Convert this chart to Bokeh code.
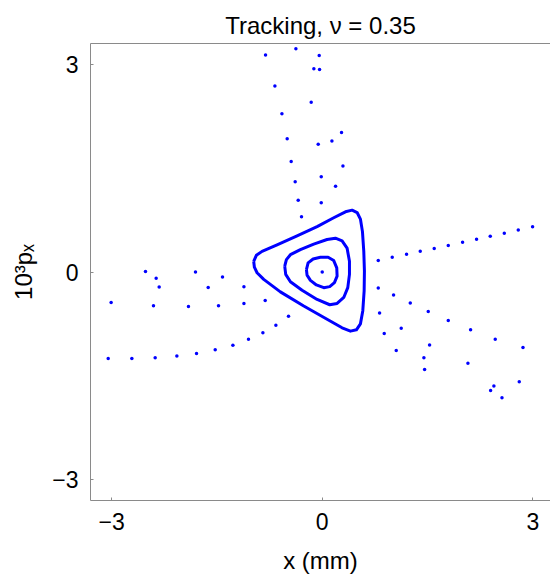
from bokeh.plotting import figure
from bokeh.models import Range1d, FixedTicker, LinearAxis
from bokeh.embed import file_html
from bokeh.resources import INLINE

# ---- data (x in mm, 10^3 px) ----
outer_x = [-0.976, -0.938, -0.857, -0.643, -0.358, -0.073, 0.164, 0.331, 0.426, 0.497,
           0.544, 0.573, 0.592, 0.601, 0.597, 0.578, 0.544, 0.487, 0.402, 0.283,
           0.069, -0.263, -0.596, -0.833, -0.928, -0.966]
outer_y = [0.155, 0.241, 0.298, 0.393, 0.521, 0.655, 0.783, 0.869, 0.893, 0.859,
           0.764, 0.583, 0.298, 0.012, -0.273, -0.559, -0.749, -0.835, -0.854, -0.806,
           -0.682, -0.492, -0.287, -0.107, -0.011, 0.069]

middle_x = [-0.534, -0.510, -0.453, -0.311, -0.121, 0.069, 0.188, 0.283, 0.354, 0.388,
            0.388, 0.364, 0.307, 0.212, 0.107, -0.073, -0.287, -0.453, -0.520]
middle_y = [0.084, 0.179, 0.250, 0.322, 0.403, 0.469, 0.488, 0.450, 0.345, 0.155,
            -0.035, -0.226, -0.368, -0.454, -0.473, -0.397, -0.264, -0.140, -0.035]

inner_x = [-0.225, -0.201, -0.130, -0.026, 0.084, 0.164, 0.207, 0.212, 0.174, 0.107,
           0.022, -0.083, -0.168, -0.216]
inner_y = [0.036, 0.131, 0.188, 0.212, 0.212, 0.165, 0.060, -0.059, -0.154, -0.211,
           -0.226, -0.187, -0.121, -0.045]

center_x = [0.0]
center_y = [0.0]

# scattered points of the unstable orbit
dots_x = [-0.375, -0.807, -0.043, -0.119, -0.038, -0.674, -0.157, -0.574, 0.275, -0.499,
          0.138, -0.057, -0.442, 0.295, -0.014, -0.385, 0.190, -0.342, -0.014, -0.295,
          0.798, 0.997, 1.201, 1.396, 1.595, 1.795, 1.999, 2.198, 2.393, 2.593, 2.792, 2.996,
          0.798, 1.016, 1.254, 1.510, 1.795, 2.113, 2.464, 2.859,
          0.817, 1.125, 0.883, 1.529, 1.054, 1.448, 1.458, 2.075, 2.806, 2.445, 2.398, 2.560,
          -2.517, -1.805, -2.365, -1.420, -2.322, -1.624, -1.115, -3.006, -2.403, -1.905,
          -1.477, -1.115, -0.812, -0.845, -1.050, -1.272, -1.524, -1.790, -2.070, -2.379,
          -2.711, -3.048, -0.480, -0.660]
dots_y = [3.224, 3.134, 3.125, 2.935, 2.925, 2.688, 2.451, 2.286, 2.015, 1.925,
          1.892, 1.845, 1.597, 1.532, 1.375, 1.304, 1.238, 1.038, 1.000, 0.797,
          0.166, 0.213, 0.256, 0.299, 0.341, 0.384, 0.431, 0.474, 0.516, 0.559, 0.607, 0.654,
          -0.232, -0.332, -0.446, -0.569, -0.702, -0.834, -0.972, -1.090,
          -0.593, -0.811, -0.887, -1.053, -1.133, -1.238, -1.408, -1.318, -1.584, -1.645, -1.712, -1.816,
          0.009, 0.000, -0.090, -0.071, -0.218, -0.223, -0.213, -0.441, -0.488, -0.498,
          -0.488, -0.455, -0.413, -0.877, -0.972, -1.057, -1.124, -1.176, -1.213, -1.238,
          -1.248, -1.248, -0.640, -0.768]

x_ticks = [-3, 0, 3]
y_ticks = [-3, 0, 3]
tick_labels = {-3: "\u22123", 0: "0", 3: "3"}

BLUE = "#0000ff"
GRAY = "#8a8a8a"
FONT = "Liberation Sans"

p = figure(width=550, height=576, output_backend="svg", toolbar_location=None,
           x_range=Range1d(-3.3, 3.251), y_range=Range1d(-3.3, 3.3),
           min_border_left=90, min_border_right=0, min_border_top=43, min_border_bottom=70)

p.title.text = "Tracking, \u03bd = 0.35"
p.title.align = "center"
p.title.text_font = FONT
p.title.text_font_size = "24px"
p.title.text_font_style = "normal"
p.title.text_color = "black"

p.grid.visible = False
p.outline_line_color = None
p.background_fill_color = "white"
p.border_fill_color = "white"

for ax, ticks in ((p.xaxis[0], x_ticks), (p.yaxis[0], y_ticks)):
    ax.ticker = FixedTicker(ticks=ticks)
    ax.axis_line_color = GRAY
    ax.major_tick_line_color = GRAY
    ax.major_tick_in = 3
    ax.major_tick_out = 0
    ax.minor_tick_line_color = None
    ax.major_label_text_font = FONT
    ax.major_label_text_font_size = "23px"
    ax.major_label_text_color = "black"
    ax.axis_label_text_font = FONT
    ax.axis_label_text_font_style = "normal"
    ax.axis_label_text_color = "black"
    ax.major_label_overrides = tick_labels

p.xaxis[0].axis_label = "x (mm)"
p.yaxis[0].axis_label = "10\u00b3p\u2093"
p.xaxis[0].axis_label_text_font_size = "24px"
p.yaxis[0].axis_label_text_font_size = "24px"
p.xaxis[0].major_label_standoff = 12
p.yaxis[0].major_label_standoff = 12
p.xaxis[0].axis_label_standoff = 14
p.yaxis[0].axis_label_standoff = 12

top = LinearAxis(ticker=FixedTicker(ticks=[]), axis_line_color=GRAY,
                 major_tick_line_color=None, minor_tick_line_color=None,
                 major_label_text_font_size="0px")
p.add_layout(top, "above")

for xs, ys in ((outer_x, outer_y), (middle_x, middle_y), (inner_x, inner_y)):
    p.line(xs + xs[:1], ys + ys[:1], line_color=BLUE, line_width=3, line_join="round")

p.scatter(center_x, center_y, size=3.5, fill_color=BLUE, line_color=None)
p.scatter(dots_x, dots_y, size=3.5, fill_color=BLUE, line_color=None)

open("out.html", "w").write(file_html(p, INLINE))
